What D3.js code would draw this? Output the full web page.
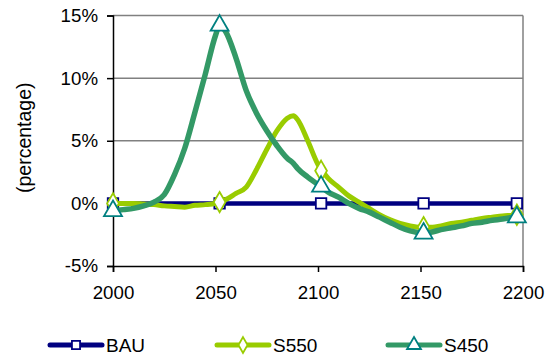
<!DOCTYPE html>
<html><head><meta charset="utf-8">
<script src="https://cdn.jsdelivr.net/npm/d3@7"></script>
<style>body{margin:0;background:#fff}svg{display:block}text{font-family:Arial,"Liberation Sans",sans-serif;fill:#000}</style>
</head><body><svg id="c" width="550" height="357"></svg>
<script>
const years = [2000,2005,2010,2015,2020,2025,2030,2035,2040,2045,2050,2052,2055,2060,2065,2070,2075,2080,2085,2088,2090,2095,2100,2105,2110,2115,2120,2125,2130,2135,2140,2145,2150,2155,2160,2165,2170,2175,2180,2185,2190,2195,2198];
const bau  = years.map(() => 0);
const s550 = [0,0,0,-0.05,-0.1,-0.2,-0.25,-0.3,-0.15,-0.1,0,0.1,0.3,0.8,1.3,2.7,4.3,5.8,6.8,7.0,6.7,5.0,3.1,2.0,1.3,0.6,0.1,-0.4,-0.9,-1.3,-1.6,-1.8,-1.9,-1.9,-1.8,-1.6,-1.5,-1.35,-1.2,-1.1,-1.0,-0.95,-0.9];
const s450 = [-0.6,-0.5,-0.4,-0.2,0.1,0.7,2.3,4.4,7.3,10.3,13.4,14.2,13.7,11.6,9.0,7.2,5.8,4.6,3.6,3.2,2.8,2.1,1.5,0.9,0.5,0.0,-0.4,-0.7,-1.1,-1.5,-1.9,-2.2,-2.35,-2.3,-2.1,-1.95,-1.8,-1.6,-1.5,-1.35,-1.25,-1.1,-1.0];
const markerYears = [2000,2052,2101.5,2151.5,2197];
const bauMarkers  = [0,0,0,0,0];
const s550Markers = [0,0.1,2.6,-1.9,-0.9];
const s450Markers = [-0.6,14.2,1.35,-2.4,-1.1];
const yTicks = [-5,0,5,10,15];
const xTicks = [2000,2050,2100,2150,2200];
const seriesNames = ["BAU","S550","S450"];

const svg = d3.select("#c");
const x = d3.scaleLinear().domain([2000,2200]).range([113,523]);
const y = d3.scaleLinear().domain([-5,15]).range([266,15.5]);

// gridlines
svg.append("g").selectAll("line").data(yTicks.filter(t=>t>-5)).join("line")
  .attr("x1",x(2000)).attr("x2",x(2200)).attr("y1",d=>y(d)).attr("y2",d=>y(d))
  .attr("stroke","#808080").attr("stroke-width",1.5);
// right border
svg.append("line").attr("x1",x(2200)).attr("x2",x(2200)).attr("y1",y(15)).attr("y2",y(-5))
  .attr("stroke","#808080").attr("stroke-width",1.5);

// axes
const yAxis = d3.axisLeft(y).tickValues(yTicks).tickFormat(d=>d+"%").tickSize(6).tickPadding(9);
const gy = svg.append("g").attr("transform",`translate(${x(2000)},0)`).call(yAxis);
const xAxis = d3.axisBottom(x).tickValues(xTicks).tickFormat(d3.format("d")).tickSize(6).tickPadding(14);
const gx = svg.append("g").attr("transform",`translate(0,${y(-5)})`).call(xAxis);
[gy,gx].forEach(g=>{
  g.select(".domain").attr("stroke","#000").attr("stroke-width",1.5);
  g.selectAll(".tick line").attr("stroke","#000").attr("stroke-width",1.5);
  g.selectAll("text").attr("font-size","18.7px").attr("font-family","Arial, 'Liberation Sans', sans-serif").attr("fill","#000");
});
gx.selectAll(".tick text").attr("dy","0.71em");

svg.append("text").attr("transform",`translate(31,${(y(15)+y(-5))/2 - 3}) rotate(-90)`)
  .attr("text-anchor","middle").attr("font-size","19.5px").text("(percentage)");

const line = d3.line().x((d,i)=>x(years[i])).y(d=>y(d)).curve(d3.curveMonotoneX);
const cfg = [
  {vals:bau, mk:bauMarkers, color:"#000080", mstroke:"#000080", w:4.5, sym:d3.symbolSquare, size:110},
  {vals:s550, mk:s550Markers, color:"#99CC00", mstroke:"#99CC00", w:5, sym:d3.symbolDiamond, size:120},
  {vals:s450, mk:s450Markers, color:"#339966", mstroke:"#008080", w:5.5, sym:d3.symbolTriangle, size:140}
];
cfg.forEach(c=>{
  svg.append("path").attr("d",line(c.vals)).attr("fill","none").attr("stroke",c.color)
    .attr("stroke-width",c.w).attr("stroke-linejoin","round").attr("stroke-linecap","round");
  svg.append("g").selectAll("path").data(c.mk).join("path")
    .attr("transform",(d,i)=>`translate(${x(markerYears[i])},${y(d)})`)
    .attr("d",d3.symbol().type(c.sym).size(c.size)).attr("fill","#fff")
    .attr("stroke",c.mstroke).attr("stroke-width",1.8);
});

// legend
const legX = [50,217,388];
const lg = svg.append("g").attr("transform","translate(0,345)");
cfg.forEach((c,i)=>{
  lg.append("line").attr("x1",legX[i]).attr("x2",legX[i]+52).attr("y1",0).attr("y2",0)
    .attr("stroke",c.color).attr("stroke-width",5).attr("stroke-linecap","round");
  lg.append("path").attr("transform",`translate(${legX[i]+26},0)`)
    .attr("d",d3.symbol().type(c.sym).size(c.size*0.6)).attr("fill","#fff")
    .attr("stroke",c.mstroke).attr("stroke-width",1.8);
  lg.append("text").attr("x",legX[i]+56).attr("y",0).attr("dy","0.35em")
    .attr("font-size","19px").text(seriesNames[i]);
});
</script></body></html>
